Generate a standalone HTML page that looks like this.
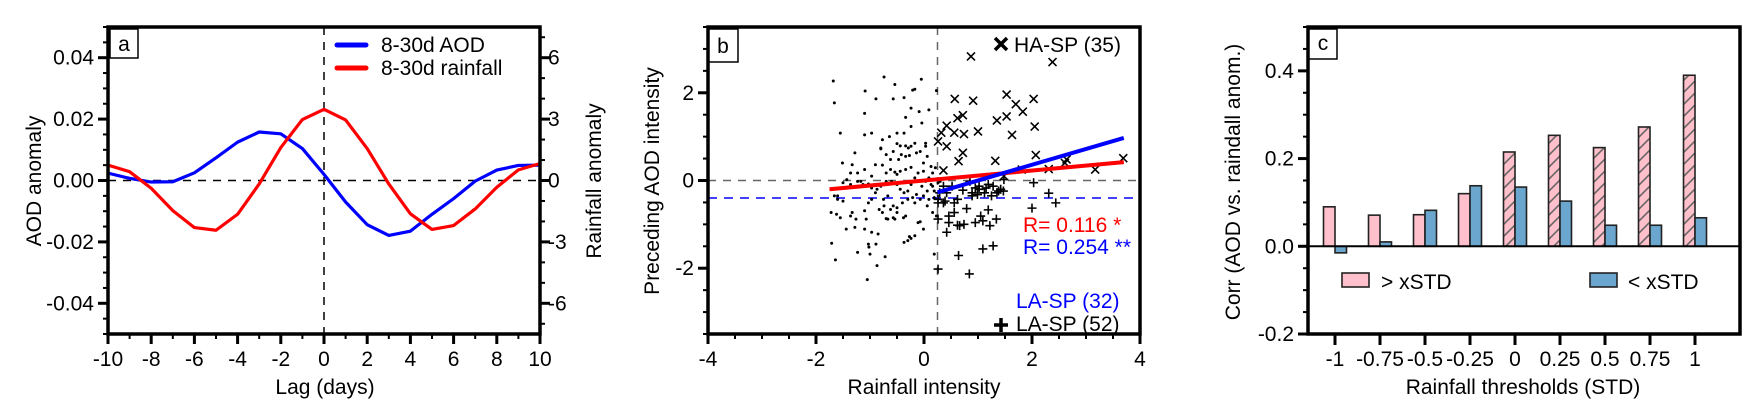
<!DOCTYPE html>
<html><head><meta charset="utf-8"><style>
html,body{margin:0;padding:0;background:#fff}
svg{display:block;font-family:"Liberation Sans",Arial,sans-serif}
</style></head><body>
<svg id="fig" width="1762" height="418" viewBox="0 0 1762 418" xmlns="http://www.w3.org/2000/svg">
<defs>
<pattern id="hatch" patternUnits="userSpaceOnUse" width="12" height="12">
<rect width="12" height="12" fill="#ffc0cb"/>
<path d="M-3,15 L15,-3 M-3,3 L3,-3 M9,15 L15,9" stroke="#666" stroke-width="1.6"/>
</pattern>
</defs>
<g id="pa"></g>
<g id="pb"></g>
<g id="pc"></g>
</svg>
<script>
// ---- Panel a data ----
const lags = [-10,-9,-8,-7,-6,-5,-4,-3,-2,-1,0,1,2,3,4,5,6,7,8,9,10];
const aodSeries = [0.0024,0.0007,-0.0005,-0.0004,0.0025,0.0074,0.0125,0.0158,0.0152,0.0104,0.002,-0.007,-0.0144,-0.0179,-0.0165,-0.011,-0.0059,-0.0002,0.0034,0.0049,0.005];
const rainSeries = [0.75,0.43,-0.38,-1.47,-2.3,-2.43,-1.65,-0.17,1.61,2.98,3.48,2.96,1.56,-0.17,-1.63,-2.39,-2.2,-1.39,-0.33,0.52,0.83];
const aTicksX = [-10,-8,-6,-4,-2,0,2,4,6,8,10];
const aTicksYL = [-0.04,-0.02,0,0.02,0.04];
const aTickLabelsYL = ["-0.04","-0.02","0.00","0.02","0.04"];
const aTicksYR = [-6,-3,0,3,6];

// ---- Panel b data ----
const dotX = [-1.68,-1.66,-1.55,-1.72,-1.71,-1.64,-1.28,-1.51,-1.33,-1.36,-1.43,-1.50,-1.60,-1.62,-1.55,-1.44,-1.33,-1.28,-1.23,-1.10,-1.07,-1.03,-1.02,-1.00,-1.05,-0.87,-0.89,-0.85,-0.72,-0.77,-0.70,-0.62,-0.57,-0.54,-0.67,-0.75,-0.90,-0.97,-1.09,-1.17,-1.23,-1.10,-0.90,-0.77,-0.70,-0.62,-0.54,-0.47,-0.42,-0.34,-0.27,-0.17,-0.24,-0.37,-0.50,-0.64,-0.80,-0.77,-0.97,-1.10,-1.10,-1.09,-0.89,-0.74,-0.54,-0.57,-0.37,-0.34,-0.24,-0.21,-0.17,-0.05,-0.09,-0.04,0.09,0.23,0.03,0.13,-0.01,-0.11,-0.17,-0.24,-0.30,-0.37,-0.44,-0.50,-0.60,-0.70,-0.80,-0.87,-0.97,-1.03,-0.50,-0.38,-0.34,-0.17,-0.07,-0.01,0.06,0.16,0.09,0.19,-0.11,-0.07,-0.01,-0.17,-0.24,-0.27,-0.37,-0.30,0.19,0.23,0.16,-0.01,-0.14,-0.24,-0.29,-0.34,-0.44,-0.50,-0.57,-0.62,-0.70,-0.80,-0.97,-1.03,-1.13,-1.23,-1.36,-1.43,-1.60,-1.66,-1.50,-1.36,-1.26,-1.10,-0.97,-0.83,-0.74,-0.67,-0.57,-0.50,-0.40,-0.30,-0.21,-0.14,-0.04,0.03,0.09,0.16,0.21,0.26,0.30,0.13,0.06,0.19,0.06,0.03,-0.07,-0.24,-0.34,-0.44,-0.50];
const dotY = [2.27,1.77,1.08,-0.73,-1.43,-1.81,0.63,0.40,0.36,0.17,0.02,-0.05,-0.35,-0.77,-0.85,-1.11,-0.73,-1.07,-1.64,-0.69,-0.88,-1.45,-1.52,-1.68,-2.26,-1.94,-1.45,-1.22,-1.74,-0.73,-0.87,-0.66,-0.58,-0.88,-0.35,-0.43,-0.28,-0.17,-0.11,-0.02,0.17,0.25,0.36,0.35,0.17,0.25,0.19,0.48,0.59,0.55,0.57,0.85,1.23,1.08,1.08,1.00,0.74,0.93,1.08,1.04,1.53,2.04,1.86,2.36,2.19,1.86,1.89,1.44,1.65,2.06,2.08,2.31,1.57,1.31,1.61,2.05,0.85,0.32,0.21,0.17,0.06,-0.09,-0.24,-0.28,-0.20,-0.09,-0.02,-0.02,-0.13,-0.20,-0.43,-0.51,-0.62,-0.85,-0.81,-0.51,-0.43,-0.35,-0.58,-0.73,-0.43,-0.39,-0.96,-0.94,-1.11,-1.26,-1.32,-1.28,-1.41,-1.37,-1.68,-0.81,-0.13,0.40,0.63,0.78,0.74,0.79,0.79,0.84,0.66,0.48,0.59,0.72,0.10,-0.08,-0.09,-0.02,-0.09,-0.17,-0.43,-0.35,-0.47,-0.81,-0.88,-1.11,-1.18,-0.66,-0.58,-0.88,-0.85,-0.73,-0.51,-0.43,-0.39,-0.32,-0.13,-0.02,0.06,0.17,0.29,-0.05,-0.02,-0.09,-0.24,-0.24,0.55,0.78,0.66,0.30,0.25,0.21,0.14];
const haX = [0.87,2.38,0.57,0.91,1.53,1.70,1.83,2.03,0.62,0.72,0.42,0.32,0.56,0.74,1.00,1.35,1.53,2.05,1.63,0.42,0.72,0.64,1.32,2.07,2.64,3.69,0.36,2.31,3.17,0.26,1.48,1.81,2.61];
const haY = [2.83,2.70,1.86,1.82,1.96,1.74,1.57,1.86,1.42,1.49,1.25,1.09,1.09,1.06,1.12,1.37,1.46,1.23,1.04,0.78,0.63,0.44,0.45,0.58,0.48,0.51,0.23,0.26,0.25,0.89,0.10,0.25,0.40];
const laX = [2.03,2.00,2.31,2.44,0.36,0.52,0.72,0.89,1.02,1.15,1.28,1.47,0.26,0.39,0.56,0.79,1.19,0.56,0.26,0.46,0.66,1.05,1.09,1.22,1.34,0.42,0.62,1.09,1.28,0.64,0.84,0.26,1.48,0.99,1.35,1.02,1.42,0.29,0.42,0.95,1.12,1.25,0.74,1.38,0.26,0.36,0.85,0.62,0.89,1.19,0.46,0.95];
const laY = [-0.05,-0.63,-0.29,-0.51,-0.13,-0.13,-0.22,-0.28,-0.20,-0.17,-0.13,-0.24,-0.43,-0.47,-0.51,-0.64,-0.67,-0.73,-0.88,-0.96,-1.03,-0.81,-0.92,-1.03,-0.88,-1.18,-1.02,-1.56,-1.49,-1.71,-2.13,-2.02,0.02,-0.32,-0.28,-0.13,-0.20,-0.28,-0.28,-0.17,-0.28,-0.35,-1.00,-0.24,-0.51,-0.51,-0.02,-0.43,-0.35,-0.09,-0.81,-0.96];
const redFit = [[-1.75,-0.2],[3.7,0.42]];
const blueFit = [[0.25,-0.27],[3.7,0.97]];
const bVLine = 0.25;
const bBlueH = -0.4;
const bTicksX = [-4,-2,0,2,4];
const bTicksY = [-2,0,2];

// ---- Panel c data ----
const thresholds = ["-1","-0.75","-0.5","-0.25","0","0.25","0.5","0.75","1"];
const aboveVals = [0.09,0.071,0.072,0.12,0.215,0.253,0.225,0.272,0.39];
const belowVals = [-0.015,0.01,0.082,0.138,0.135,0.103,0.048,0.048,0.065];
const hatched = [false,false,false,false,true,true,true,true,true];
const cTicksY = [-0.2,0,0.2,0.4];
const cTickLabelsY = ["-0.2","0.0","0.2","0.4"];

const NS="http://www.w3.org/2000/svg";
function mk(parent, tag, attrs, text){
  const e=document.createElementNS(NS,tag);
  for(const k in attrs) e.setAttribute(k,attrs[k]);
  if(text!==undefined) e.textContent=text;
  parent.appendChild(e); return e;
}
const FS=21;

// ================= Panel a =================
(function(){
  const g=document.getElementById('pa');
  const L=108,R=540,T=27,B=334;
  const x=v=>L+(v+10)/20*(R-L);
  const y=v=>T+(0.05-v)/0.1*(B-T);
  const yr=v=>T+(7.5-v)/15*(B-T);
  let e=mk(g,'line',{x1:L,x2:R,y1:y(0),y2:y(0),stroke:'#000','stroke-width':1.5,'stroke-dasharray':'8,7'});
   
  e=mk(g,'line',{x1:x(0),x2:x(0),y1:T,y2:B,stroke:'#000','stroke-width':1.5,'stroke-dasharray':'8,7'});
   
  e=mk(g,'polyline',{points:lags.map((l,i)=>x(l)+','+y(aodSeries[i])).join(' '),fill:'none',stroke:'#0000ff','stroke-width':3.2,'stroke-linejoin':'round'});
   
  e=mk(g,'polyline',{points:lags.map((l,i)=>x(l)+','+yr(rainSeries[i])).join(' '),fill:'none',stroke:'#ff0000','stroke-width':3.2,'stroke-linejoin':'round'});
   
  e=mk(g,'rect',{x:L,y:T,width:R-L,height:B-T,fill:'none',stroke:'#000','stroke-width':3.5});
   
  for(let v=-10;v<=10;v++){
    const maj=v%2===0;
    mk(g,'line',{x1:x(v),x2:x(v),y1:B,y2:B+(maj?10:5),stroke:'#000','stroke-width':maj?3:2});
  }
  aTicksX.forEach(v=>{
    e=mk(g,'text',{x:x(v),y:366,'font-size':FS,'text-anchor':'middle'},String(v));
     
  });
  for(let k=-10;k<=10;k++){
    const v=k*0.005, maj=k%4===0;
    mk(g,'line',{x1:L,x2:L-(maj?10:5),y1:y(v),y2:y(v),stroke:'#000','stroke-width':maj?3:2});
  }
  aTicksYL.forEach((v,i)=>{
    e=mk(g,'text',{x:94,y:y(v)+7,'font-size':FS,'text-anchor':'end'},aTickLabelsYL[i]);
     
  });
  for(let v=-7;v<=7;v++){
    const maj=v%3===0;
    mk(g,'line',{x1:R,x2:R+(maj?10:5),y1:yr(v),y2:yr(v),stroke:'#000','stroke-width':maj?3:2});
  }
  aTicksYR.forEach(v=>{
    e=mk(g,'text',{x:548,y:yr(v)+7,'font-size':FS},String(v));
     
  });
  e=mk(g,'text',{x:0,y:0,'font-size':FS,'text-anchor':'middle',transform:'translate(41,181) rotate(-90)'},'AOD anomaly');
   
  e=mk(g,'text',{x:0,y:0,'font-size':FS,'text-anchor':'middle',transform:'translate(601,181) rotate(-90)'},'Rainfall anomaly');
   
  e=mk(g,'text',{x:325,y:394,'font-size':FS,'text-anchor':'middle'},'Lag (days)');
   
  e=mk(g,'rect',{x:110,y:29,width:28,height:29,fill:'#fff',stroke:'#000','stroke-width':1.5});
   
  e=mk(g,'text',{x:124,y:51,'font-size':FS,'text-anchor':'middle'},'a');
   
  e=mk(g,'line',{x1:337,x2:366,y1:45,y2:45,stroke:'#0000ff','stroke-width':5,'stroke-linecap':'round'});
   
  e=mk(g,'text',{x:381,y:52,'font-size':FS},'8-30d AOD');
   
  e=mk(g,'line',{x1:337,x2:366,y1:68,y2:68,stroke:'#ff0000','stroke-width':5,'stroke-linecap':'round'});
   
  e=mk(g,'text',{x:381,y:75,'font-size':FS},'8-30d rainfall');
   
})();

// ================= Panel b =================
(function(){
  const g=document.getElementById('pb');
  const L=708,R=1140,T=27,B=334;
  const x=v=>L+(v+4)/8*(R-L);
  const y=v=>T+(3.5-v)/7*(B-T);
  let e;
  e=mk(g,'line',{x1:L,x2:R,y1:y(0),y2:y(0),stroke:'#666','stroke-width':1.5,'stroke-dasharray':'8,7'});
   
  e=mk(g,'line',{x1:x(bVLine),x2:x(bVLine),y1:T,y2:B,stroke:'#666','stroke-width':1.5,'stroke-dasharray':'8,7'});
   
  e=mk(g,'line',{x1:L,x2:R,y1:y(bBlueH),y2:y(bBlueH),stroke:'#0000ff','stroke-width':1.5,'stroke-dasharray':'9,7'});
   
  dotX.forEach((v,i)=>{
    const c=mk(g,'circle',{cx:x(v),cy:y(dotY[i]),r:1.5,fill:'#000'});
    
    
  });
  haX.forEach((v,i)=>{
    const cx=x(v),cy=y(haY[i]),s=4;
    const p=mk(g,'path',{d:`M${cx-s},${cy-s}L${cx+s},${cy+s}M${cx-s},${cy+s}L${cx+s},${cy-s}`,stroke:'#000','stroke-width':1.6});
    
    
  });
  laX.forEach((v,i)=>{
    const cx=x(v),cy=y(laY[i]),s=4.5;
    const p=mk(g,'path',{d:`M${cx-s},${cy}L${cx+s},${cy}M${cx},${cy-s}L${cx},${cy+s}`,stroke:'#000','stroke-width':1.6});
    
    
  });
  e=mk(g,'line',{x1:x(redFit[0][0]),y1:y(redFit[0][1]),x2:x(redFit[1][0]),y2:y(redFit[1][1]),stroke:'#ff0000','stroke-width':4});
   
  e=mk(g,'line',{x1:x(blueFit[0][0]),y1:y(blueFit[0][1]),x2:x(blueFit[1][0]),y2:y(blueFit[1][1]),stroke:'#0000ff','stroke-width':4});
   
  e=mk(g,'rect',{x:L,y:T,width:R-L,height:B-T,fill:'none',stroke:'#000','stroke-width':3.5});
   
  for(let k=-8;k<=8;k++){
    const v=k*0.5, maj=k%4===0;
    mk(g,'line',{x1:x(v),x2:x(v),y1:B,y2:B+(maj?10:5),stroke:'#000','stroke-width':maj?3:2});
  }
  bTicksX.forEach(v=>{
    e=mk(g,'text',{x:x(v),y:366,'font-size':FS,'text-anchor':'middle'},String(v));
     
  });
  for(let k=-7;k<=7;k++){
    const v=k*0.5, maj=k%4===0;
    mk(g,'line',{x1:L,x2:L-(maj?10:5),y1:y(v),y2:y(v),stroke:'#000','stroke-width':maj?3:2});
  }
  bTicksY.forEach(v=>{
    e=mk(g,'text',{x:694,y:y(v)+7,'font-size':FS,'text-anchor':'end'},String(v));
     
  });
  e=mk(g,'text',{x:0,y:0,'font-size':FS,'text-anchor':'middle',transform:'translate(659,181) rotate(-90)'},'Preceding AOD intensity');
   
  e=mk(g,'text',{x:924,y:394,'font-size':FS,'text-anchor':'middle'},'Rainfall intensity');
   
  e=mk(g,'rect',{x:709,y:29,width:29,height:33,fill:'#fff',stroke:'#000','stroke-width':1.5});
   
  e=mk(g,'text',{x:723,y:53,'font-size':FS,'text-anchor':'middle'},'b');
   
  e=mk(g,'path',{d:'M995,38L1007,50M995,50L1007,38',stroke:'#000','stroke-width':3.5});
   
  e=mk(g,'text',{x:1014,y:52,'font-size':FS},'HA-SP (35)');
   
  e=mk(g,'text',{x:1023,y:232,'font-size':FS,fill:'#ff0000'},'R= 0.116 *');
   
  e=mk(g,'text',{x:1023,y:254,'font-size':FS,fill:'#0000ff'},'R= 0.254 **');
   
  e=mk(g,'text',{x:1016,y:308,'font-size':FS,fill:'#0000ff'},'LA-SP (32)');
   
  e=mk(g,'path',{d:'M994,325L1008,325M1001,318L1001,332',stroke:'#000','stroke-width':3.5});
   
  e=mk(g,'text',{x:1016,y:331,'font-size':FS},'LA-SP (52)');
   
})();

// ================= Panel c =================
(function(){
  const g=document.getElementById('pc');
  const L=1308,R=1740,T=27,B=334;
  const y=v=>T+(0.5-v)/0.7*(B-T);
  const xc=i=>1335+i*45;
  const bw=11.5;
  let e;
  thresholds.forEach((t,i)=>{
    const va=aboveVals[i], vb=belowVals[i];
    const r1=mk(g,'rect',{x:xc(i)-bw,y:Math.min(y(va),y(0)),width:bw,height:Math.abs(y(va)-y(0)),fill:hatched[i]?'url(#hatch)':'#ffc0cb',stroke:'#222','stroke-width':1.6});
    
    
    const r2=mk(g,'rect',{x:xc(i),y:Math.min(y(vb),y(0)),width:bw,height:Math.abs(y(vb)-y(0)),fill:'#6aa6cd',stroke:'#222','stroke-width':1.6});
    
    
  });
  e=mk(g,'line',{x1:L,x2:R,y1:y(0),y2:y(0),stroke:'#000','stroke-width':2});
   
  e=mk(g,'rect',{x:L,y:T,width:R-L,height:B-T,fill:'none',stroke:'#000','stroke-width':3.5});
   
  thresholds.forEach((t,i)=>{
    mk(g,'line',{x1:xc(i),x2:xc(i),y1:B,y2:B+11,stroke:'#000','stroke-width':3});
    e=mk(g,'text',{x:xc(i),y:366,'font-size':FS,'text-anchor':'middle'},t);
     
  });
  for(let k=-4;k<=10;k++){
    const v=k*0.05, maj=k%4===0;
    mk(g,'line',{x1:L,x2:L-(maj?10:5),y1:y(v),y2:y(v),stroke:'#000','stroke-width':maj?3:2});
  }
  cTicksY.forEach((v,i)=>{
    e=mk(g,'text',{x:1294,y:y(v)+7,'font-size':FS,'text-anchor':'end'},cTickLabelsY[i]);
     
  });
  e=mk(g,'text',{x:0,y:0,'font-size':FS,'text-anchor':'middle',transform:'translate(1240,182) rotate(-90)'},'Corr (AOD vs. raindall anom.)');
   
  e=mk(g,'text',{x:1523,y:394,'font-size':FS,'text-anchor':'middle'},'Rainfall thresholds (STD)');
   
  e=mk(g,'rect',{x:1309,y:29,width:28,height:30,fill:'#fff',stroke:'#000','stroke-width':1.5});
   
  e=mk(g,'text',{x:1323,y:50,'font-size':FS,'text-anchor':'middle'},'c');
   
  e=mk(g,'rect',{x:1342,y:273,width:27,height:14,fill:'#ffc0cb',stroke:'#222','stroke-width':1.6});
   
  e=mk(g,'text',{x:1381,y:289,'font-size':FS},'> xSTD');
   
  e=mk(g,'rect',{x:1590,y:273,width:27,height:14,fill:'#6aa6cd',stroke:'#222','stroke-width':1.6});
   
  e=mk(g,'text',{x:1628,y:289,'font-size':FS},'< xSTD');
   
})();
</script>
</body></html>
